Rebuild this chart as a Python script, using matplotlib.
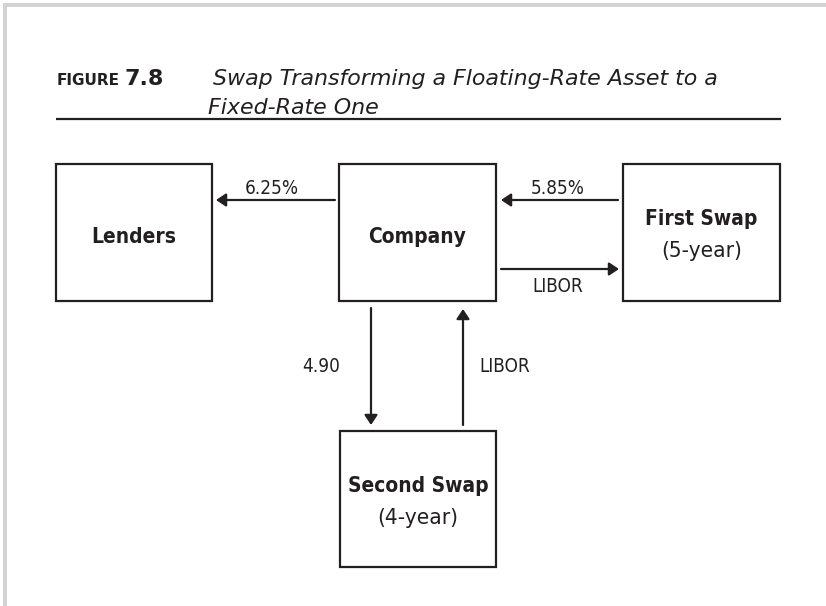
import os
import matplotlib
matplotlib.use("Agg")
import matplotlib.pyplot as plt
from matplotlib.patches import Rectangle
from matplotlib import font_manager

# -----------------------------
# Diagram content
# -----------------------------
fig_label = "FIGURE"
fig_number = "7.8"
title_lines = ["Swap Transforming a Floating-Rate Asset to a", "Fixed-Rate One"]

box_names = ["Lenders", "Company", "First Swap", "Second Swap"]
box_notes = ["", "", "(5-year)", "(4-year)"]

flow_labels = ["6.25%", "5.85%", "LIBOR", "4.90", "LIBOR"]

# layout in pixels (origin top-left)
box_rects = [(56, 164, 212, 301), (339, 164, 496, 301),
             (623, 164, 780, 301), (340, 431, 496, 567)]
flow_paths = [((335, 200), (216, 200)), ((618, 200), (501, 200)),
              ((501, 269), (619, 269)), ((371, 308), (371, 425)),
              ((463, 425), (463, 309))]
flow_text_pos = [(272, 194, "center"), (558, 194, "center"), (558, 292, "center"),
                 (340, 372, "right"), (479, 372, "left")]

INK = "#231f20"

# narrow font: DejaVu Sans Condensed if present, else Liberation Sans
files = {os.path.basename(f.fname): f.fname for f in font_manager.fontManager.ttflist}
if "DejaVuSansCondensed.ttf" in files and "DejaVuSansCondensed-Bold.ttf" in files:
    def narrow(bold=False):
        key = "DejaVuSansCondensed-Bold.ttf" if bold else "DejaVuSansCondensed.ttf"
        return font_manager.FontProperties(fname=files[key])
else:
    def narrow(bold=False):
        return font_manager.FontProperties(family="Liberation Sans",
                                           weight="bold" if bold else "normal")

fig = plt.figure(figsize=(8.26, 6.06), dpi=100)
ax = fig.add_axes([0, 0, 1, 1])
ax.set_xlim(0, 826)
ax.set_ylim(606, 0)
ax.axis("off")
renderer = fig.canvas.get_renderer()


def fit_size(s, props, target_px):
    # font size (pt) that makes string s about target_px wide
    t = ax.text(0, 0, s, fontproperties=props, fontsize=10)
    w = t.get_window_extent(renderer).width
    t.remove()
    return 10 * target_px / w


# grey page border (top + left)
ax.add_patch(Rectangle((3, 3), 823, 4, color="#d3d3d3", lw=0))
ax.add_patch(Rectangle((3, 3), 4, 603, color="#d3d3d3", lw=0))

# -----------------------------
# Title
# -----------------------------
ax.text(57, 85, fig_label, fontsize=11, fontweight="bold", color=INK,
        family="DejaVu Sans", va="baseline")
ax.text(124, 85, fig_number, fontsize=16, fontweight="bold", color=INK,
        family="DejaVu Sans", va="baseline")

title_props = font_manager.FontProperties(family="DejaVu Sans", style="italic")
fs_title = fit_size(title_lines[0], title_props, 717 - 213)
ax.text(213, 85, title_lines[0], fontproperties=title_props, fontsize=fs_title,
        color=INK, va="baseline")
ax.text(208, 114, title_lines[1], fontproperties=title_props, fontsize=fs_title,
        color=INK, va="baseline")
ax.plot([56, 781], [119, 119], color=INK, lw=1.6, solid_capstyle="butt")

# -----------------------------
# Boxes
# -----------------------------
bold_props = narrow(True)
reg_props = narrow(False)
# reference face is taller for its width, so go a bit above the width fit
fs_name = fit_size("Second Swap", bold_props, 125) * 1.12
fs_note = fit_size("(4-year)", reg_props, 72) * 1.12
fs_flow = fit_size("6.25%", reg_props, 48) * 1.12

for name, note, (x0, y0, x1, y1) in zip(box_names, box_notes, box_rects):
    ax.add_patch(Rectangle((x0, y0), x1 - x0, y1 - y0, fill=False,
                           edgecolor=INK, lw=1.6))
    cx = (x0 + x1) / 2
    if note:
        ax.text(cx, y0 + 61, name, fontproperties=bold_props, fontsize=fs_name,
                color=INK, ha="center", va="baseline")
        ax.text(cx, y0 + 93, note, fontproperties=reg_props, fontsize=fs_note,
                color=INK, ha="center", va="baseline")
    else:
        ax.text(cx, y0 + 79, name, fontproperties=bold_props, fontsize=fs_name,
                color=INK, ha="center", va="baseline")

# -----------------------------
# Flows
# -----------------------------
for label, (start, tip), (tx, ty, ha) in zip(flow_labels, flow_paths, flow_text_pos):
    ax.annotate("", xy=tip, xytext=start,
                arrowprops=dict(arrowstyle="-|>,head_length=0.45,head_width=0.3",
                                color=INK, lw=1.6, mutation_scale=13,
                                shrinkA=0, shrinkB=0))
    ax.text(tx, ty, label, fontproperties=reg_props, fontsize=fs_flow, color=INK,
            ha=ha, va="baseline")

fig.savefig("out.png", dpi=100, facecolor="white")
